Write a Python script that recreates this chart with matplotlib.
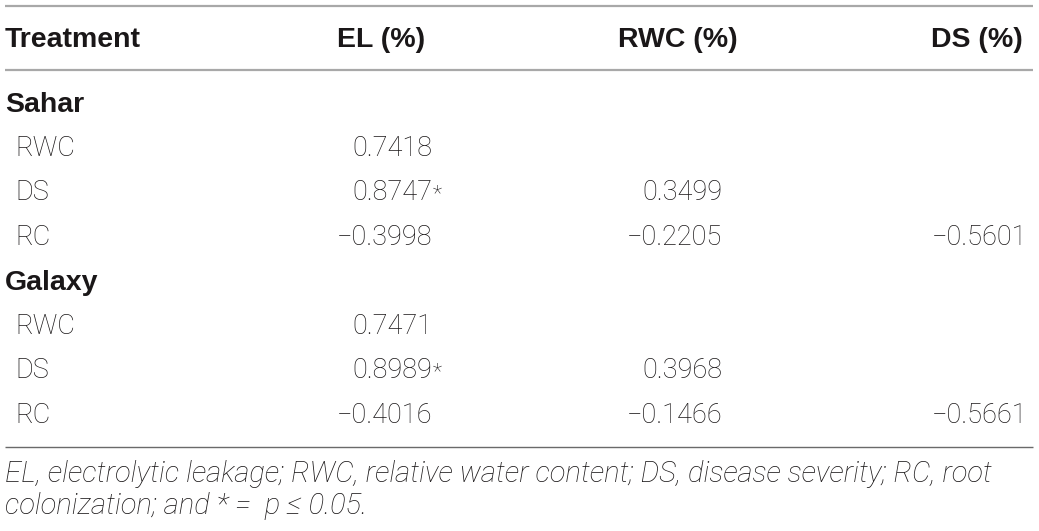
import matplotlib
matplotlib.use('Agg')
import matplotlib.pyplot as plt

# datos de la tabla
columnas = ['EL (%)', 'RWC (%)', 'DS (%)']
grupos = ['Sahar', 'Galaxy']
filas = ['RWC', 'DS', 'RC']
sahar_el = ['0.7418', '0.8747*', '\u22120.3998']
sahar_rwc = ['', '0.3499', '\u22120.2205']
sahar_ds = ['', '', '\u22120.5601']
galaxy_el = ['0.7471', '0.8989*', '\u22120.4016']
galaxy_rwc = ['', '0.3968', '\u22120.1466']
galaxy_ds = ['', '', '\u22120.5661']
nota1 = 'EL, electrolytic leakage; RWC, relative water content; DS, disease severity; RC, root'
nota2 = 'colonization; and * =  p \u2264 0.05.'

color = '#1a1718'
fuente = 'Roboto'
negrita = 'Liberation Sans'
tam = 19.5
tam_neg = 20.5
tam_nota = 21

fig = plt.figure(figsize=(10.39, 5.31), dpi=100)
ax = fig.add_axes([0, 0, 1, 1])
ax.set_xlim(0, 1039)
ax.set_ylim(531, 0)
ax.axis('off')

# lineas horizontales
ax.plot([5, 1033], [6, 6], color='#a8a8a8', lw=1.6, solid_capstyle='butt')
ax.plot([5, 1033], [70, 70], color='#a8a8a8', lw=1.6, solid_capstyle='butt')
ax.plot([5, 1033], [447, 447], color='#6a6a6a', lw=1.0, solid_capstyle='butt')

# encabezado
xcol = [432, 722, 1027]
xhead = [425, 738, 1023]
ax.text(5, 47, 'Treatment', ha='left', va='baseline', fontsize=tam_neg,
        fontweight='bold', family=negrita, color=color)
for x, c in zip(xhead, columnas):
    ax.text(x, 47, c, ha='right', va='baseline', fontsize=tam_neg,
            fontweight='bold', family=negrita, color=color)

def celda(x, y, s):
    if s == '':
        return
    if s.endswith('*'):
        ax.text(x, y, s[:-1], ha='right', va='baseline', fontsize=tam,
                fontweight='light', family=fuente, color=color)
        ax.text(x + 1, y, '*', ha='left', va='baseline', fontsize=tam - 4,
                fontweight='light', family=fuente, color=color)
    else:
        ax.text(x, y, s, ha='right', va='baseline', fontsize=tam,
                fontweight='light', family=fuente, color=color)

datos = [(sahar_el, sahar_rwc, sahar_ds), (galaxy_el, galaxy_rwc, galaxy_ds)]
paso = 44.5
y = 111.5
for g, cols in zip(grupos, datos):
    ax.text(5, y, g, ha='left', va='baseline', fontsize=tam_neg,
            fontweight='bold', family=negrita, color=color)
    for i, f in enumerate(filas):
        yy = y + paso * (i + 1)
        ax.text(15, yy, f, ha='left', va='baseline', fontsize=tam,
                fontweight='light', family=fuente, color=color)
        for x, col in zip(xcol, cols):
            celda(x, yy, col[i])
    y = y + paso * 4

# nota al pie
ax.text(5, 482, nota1, ha='left', va='baseline', fontsize=tam_nota,
        style='italic', fontweight='light', family=fuente, color=color)
ax.text(5, 514, nota2, ha='left', va='baseline', fontsize=tam_nota,
        style='italic', fontweight='light', family=fuente, color=color)

fig.savefig('out.png', dpi=100)
